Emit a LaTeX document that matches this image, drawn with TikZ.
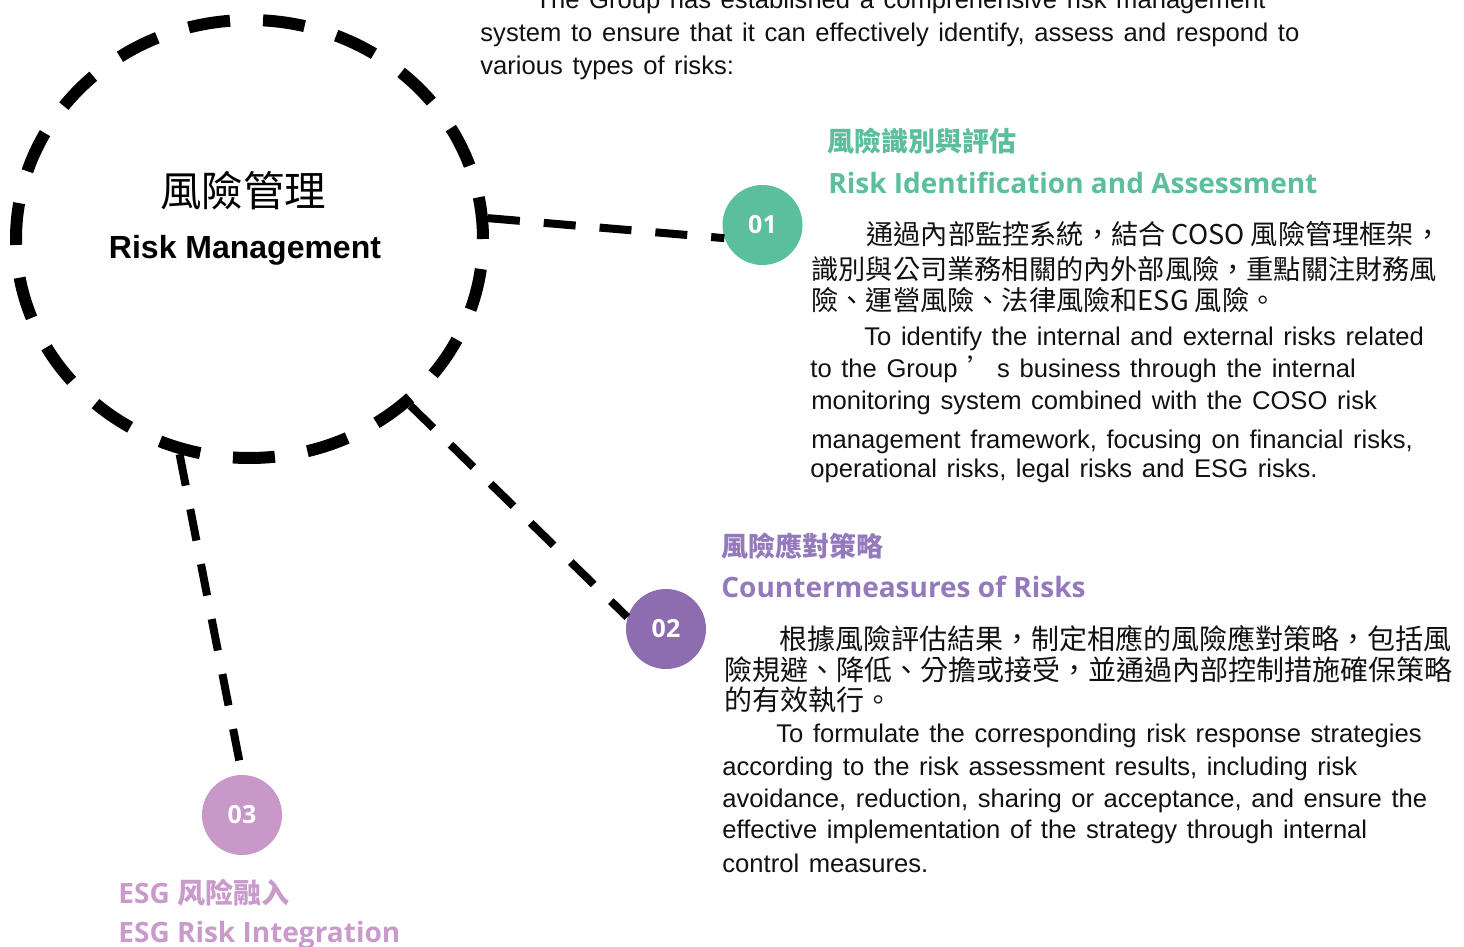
\documentclass[tikz,border=0pt]{standalone}
\usepackage{fontspec}
\setmainfont{Liberation Sans}
\newfontfamily\cjk{Noto Sans CJK TC}
\newfontfamily\cjksc{Noto Sans CJK SC}
\newfontfamily\headfont{Open Sans}
\usetikzlibrary{shapes.geometric, positioning}

\definecolor{tealA}{HTML}{5BBF9E}
\definecolor{purpleA}{HTML}{8D6CAF}
\definecolor{purpleB}{HTML}{9479BD}
\definecolor{pinkA}{HTML}{C898C9}
\definecolor{pinkB}{HTML}{C99BCB}
\definecolor{ink}{HTML}{111111}

\newcommand\bodyfont{\fontsize{12.8}{15}\selectfont\spaceskip4.8pt plus 1pt\relax}

\tikzset{
	num/.style = {circle, minimum size = 40pt, inner sep = 0pt, text = white,
		font = \headfont\bfseries\fontsize{12.5}{14}\selectfont},
	link/.style = {line width = 4pt, dash pattern = on 16pt off 12pt},
	txt/.style = {anchor = base west, inner sep = 0pt, text = ink},
	enbody/.style = {txt, font = \bodyfont},
	cnbody/.style = {txt, font = \cjk\fontsize{13.6}{16}\selectfont},
	cnhead/.style = {txt, font = \cjk\bfseries\fontsize{13.5}{16}\selectfont},
	enhead/.style = {txt, font = \headfont\bfseries\fontsize{14}{16}\selectfont}
}

\begin{document}
\begin{tikzpicture}[x = 0.5pt, y = -0.5pt]
		\useasboundingbox (0, 0) rectangle (1464, 947);

		\node [ellipse, draw, line width = 6pt, dash pattern = on 21pt off 16.5pt,
			minimum width = 233.5pt, minimum height = 219pt, inner sep = 0pt] (hub) at (249.5, 239) {};
		\node [anchor = base, font = \cjk\fontsize{20.75}{24}\selectfont] (hubCN) at (243, 206) {風險管理};
		\node [anchor = base, font = \bfseries\fontsize{16}{18}\selectfont] (hubEN) at (245, 258) {Risk Management};

		\node [num, fill = tealA] (n1) at (762.5, 225) {01};
		\node [num, fill = purpleA] (n2) at (666, 629) {02};
		\node [num, fill = pinkA] (n3) at (242, 815) {03};

		\draw [link] (hub.5) -- (n1.199);
		\draw [link] (hub.-46) -- (n2.163);
		\draw [link] (hub.-108) -- (n3.north);

		\node [enbody] (intro1) at (535, 9) {The Group has established a comprehensive risk management};
		\node [enbody] (intro2) at (480, 42) {system to ensure that it can effectively identify, assess and respond to};
		\node [enbody] (intro3) at (480, 75) {various types of risks:};

		\node [cnhead, text = tealA] (h1CN) at (827, 152) {風險識別與評估};
		\node [enhead, text = tealA] (h1EN) at (828, 194) {Risk Identification and Assessment};
		\foreach \y/\x/\t [count = \i] in {245/866/{通過內部監控系統，結合 COSO 風險管理框架，},
				279/811/{識別與公司業務相關的內外部風險，重點關注財務風},
				311/811/{險、運營風險、法律風險和ESG 風險。}}
			\node [cnbody] (p1CN\i) at (\x, \y) {\t};
		\foreach \y/\x/\t [count = \i] in {345/864/{To identify the internal and external risks related},
				377/810/{to the Group {\cjk ’}\,s business through the internal},
				409/811/{monitoring system combined with the COSO risk},
				448/811/{management framework, focusing on financial risks,},
				477/810/{operational risks, legal risks and ESG risks.}}
			\node [enbody] (p1EN\i) at (\x, \y) {\t};

		\node [cnhead, text = purpleB] (h2CN) at (721, 556) {風險應對策略};
		\node [enhead, text = purpleB] (h2EN) at (721, 597) {Countermeasures of Risks};
		\foreach \y/\x/\t [count = \i] in {649/779/{根據風險評估結果，制定相應的風險應對策略，包括風},
				680/724/{險規避、降低、分擔或接受，並通過內部控制措施確保策略},
				710/724/{的有效執行。}}
			\node [cnbody, font = \cjk\fontsize{14}{16}\selectfont] (p2CN\i) at (\x, \y) {\t};
		\foreach \y/\x/\t [count = \i] in {742/776/{To formulate the corresponding risk response strategies},
				775/722/{according to the risk assessment results, including risk},
				807/722/{avoidance, reduction, sharing or acceptance, and ensure the},
				838/722/{effective implementation of the strategy through internal},
				872/722/{control measures.}}
			\node [enbody] (p2EN\i) at (\x, \y) {\t};

		\node [enhead, text = pinkB] (h3CN) at (118, 903) {ESG {\cjksc\bfseries 风险融入}};
		\node [enhead, text = pinkB] (h3EN) at (118, 942) {ESG Risk Integration};
	\end{tikzpicture}
\end{document}
